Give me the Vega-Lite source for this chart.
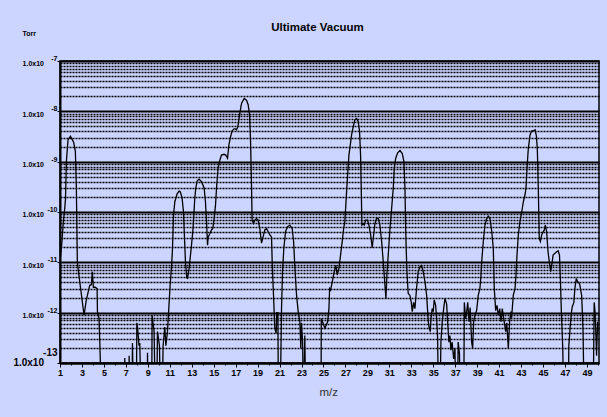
{
"$schema":"https://vega.github.io/schema/vega-lite/v6.json",
"width":539,"height":302,
"autosize":{"type":"none"},
"padding":{"left":60,"top":61,"right":8,"bottom":54},
"background":"#CCD5FF",
"config":{"view":{"stroke":"#000","strokeWidth":1.5,"fill":"#CCD5FF"},"font":"Liberation Sans"},
"title":{"text":"Ultimate Vacuum","font":"Liberation Sans","fontSize":11.5,"fontWeight":"bold","color":"#000","anchor":"middle","frame":"group","offset":-13,"baseline":"alphabetic","dx":-12},
"data":{"values":[
{"mz":1.00,"torr":1.0e-11},{"mz":1.18,"torr":2.6e-11},{"mz":1.30,"torr":6.3e-11},{"mz":1.43,"torr":1.17e-10},{"mz":1.5,"torr":1.8e-10},{"mz":1.58,"torr":1.0e-9},{"mz":1.73,"torr":2.7e-9},{"mz":1.95,"torr":3.2e-9},{"mz":2.25,"torr":2.4e-9},{"mz":2.40,"torr":1.6e-9},{"mz":2.49,"torr":3.0e-10},{"mz":2.58,"torr":1.0e-11},{"mz":2.80,"torr":4.1e-12},{"mz":3.19,"torr":8.9e-13},{"mz":3.40,"torr":1.8e-12},{"mz":3.71,"torr":3.5e-12},{"mz":3.86,"torr":3.6e-12},{"mz":3.95,"torr":6.5e-12},{"mz":4.04,"torr":3.2e-12},{"mz":4.20,"torr":3.2e-12},{"mz":4.38,"torr":3.0e-12},{"mz":4.41,"torr":1.05e-12},{"mz":4.56,"torr":7.6e-13},{"mz":4.68,"torr":1e-13},{"mz":4.75,"torr":1e-14},
{"mz":6.85,"torr":1e-14},{"mz":6.9,"torr":1.26e-13},{"mz":6.95,"torr":1e-14},{"mz":7.25,"torr":1e-14},{"mz":7.3,"torr":1.4e-13},{"mz":7.35,"torr":1e-14},{"mz":7.55,"torr":1e-14},{"mz":7.6,"torr":2.5e-13},{"mz":7.7,"torr":1e-14},{"mz":7.95,"torr":1e-14},{"mz":8.0,"torr":6.3e-13},{"mz":8.1,"torr":4.2e-13},{"mz":8.2,"torr":2.2e-13},{"mz":8.27,"torr":2.5e-13},{"mz":8.4,"torr":1e-14},{"mz":8.95,"torr":1e-14},{"mz":8.97,"torr":1.6e-13},{"mz":9.05,"torr":1e-14},{"mz":9.35,"torr":1e-14},{"mz":9.39,"torr":8.9e-13},{"mz":9.57,"torr":4.2e-13},{"mz":9.7,"torr":1e-14},{"mz":9.8,"torr":1e-14},{"mz":9.88,"torr":4.2e-13},{"mz":10.06,"torr":2.2e-13},{"mz":10.18,"torr":1e-14},{"mz":10.3,"torr":1e-14},{"mz":10.39,"torr":2.2e-13},{"mz":10.55,"torr":5.2e-13},{"mz":10.64,"torr":2.2e-13},{"mz":10.79,"torr":4.2e-13},{"mz":10.91,"torr":1.2e-12},
{"mz":11.03,"torr":3.5e-12},{"mz":11.15,"torr":7.6e-12},{"mz":11.25,"torr":1.9e-11},{"mz":11.34,"torr":8.7e-11},{"mz":11.46,"torr":1.6e-10},{"mz":11.67,"torr":2.3e-10},{"mz":11.85,"torr":2.6e-10},{"mz":11.97,"torr":2.5e-10},{"mz":12.12,"torr":1.9e-10},{"mz":12.25,"torr":1.0e-10},{"mz":12.33,"torr":3.5e-11},{"mz":12.43,"torr":1.0e-11},{"mz":12.55,"torr":4.9e-12},{"mz":12.62,"torr":4.8e-12},{"mz":12.76,"torr":7.6e-12},{"mz":12.98,"torr":2.2e-11},{"mz":13.12,"torr":4.7e-11},{"mz":13.28,"torr":1.9e-10},{"mz":13.37,"torr":3.0e-10},{"mz":13.49,"torr":4.1e-10},{"mz":13.67,"torr":4.5e-10},{"mz":13.89,"torr":4.0e-10},{"mz":14.13,"torr":3.0e-10},{"mz":14.25,"torr":1.6e-10},{"mz":14.35,"torr":6.3e-11},{"mz":14.44,"torr":2.2e-11},{"mz":14.5,"torr":3.2e-11},{"mz":14.65,"torr":3.7e-11},{"mz":14.8,"torr":4.4e-11},{"mz":14.92,"torr":4.7e-11},{"mz":15.04,"torr":7.4e-11},{"mz":15.17,"torr":1.4e-10},{"mz":15.26,"torr":3.0e-10},{"mz":15.4,"torr":7.4e-10},{"mz":15.56,"torr":1.07e-9},{"mz":15.71,"torr":1.35e-9},{"mz":15.95,"torr":1.4e-9},{"mz":16.1,"torr":1.35e-9},{"mz":16.26,"torr":1.17e-9},{"mz":16.38,"torr":2.1e-9},{"mz":16.5,"torr":2.9e-9},{"mz":16.68,"torr":4.1e-9},{"mz":16.86,"torr":4.5e-9},{"mz":17.0,"torr":4.5e-9},{"mz":17.08,"torr":4.3e-9},{"mz":17.2,"torr":4.9e-9},{"mz":17.38,"torr":9.1e-9},{"mz":17.54,"torr":1.45e-8},{"mz":17.78,"torr":1.8e-8},{"mz":17.99,"torr":1.66e-8},{"mz":18.14,"torr":1.35e-8},{"mz":18.27,"torr":8.5e-9},{"mz":18.36,"torr":2.5e-9},{"mz":18.45,"torr":3.0e-10},{"mz":18.5,"torr":6.9e-11},{"mz":18.63,"torr":5.9e-11},{"mz":18.75,"torr":6.9e-11},{"mz":18.9,"torr":7.4e-11},{"mz":19.05,"torr":6.9e-11},{"mz":19.2,"torr":4.7e-11},{"mz":19.36,"torr":2.4e-11},{"mz":19.5,"torr":3.2e-11},{"mz":19.66,"torr":4.4e-11},{"mz":19.81,"torr":4.7e-11},{"mz":19.96,"torr":4.1e-11},{"mz":20.12,"torr":3.5e-11},{"mz":20.27,"torr":3.2e-11},{"mz":20.33,"torr":1.0e-11},{"mz":20.45,"torr":2.2e-12},{"mz":20.57,"torr":4.9e-13},{"mz":20.69,"torr":3.9e-13},{"mz":20.75,"torr":1.0e-12},{"mz":20.85,"torr":1.0e-12},{"mz":20.9,"torr":1e-14},{"mz":21.05,"torr":1e-14},{"mz":21.18,"torr":1.2e-12},{"mz":21.27,"torr":6.5e-12},{"mz":21.39,"torr":1.9e-11},{"mz":21.55,"torr":4.1e-11},{"mz":21.73,"torr":5.1e-11},{"mz":21.94,"torr":5.5e-11},{"mz":22.15,"torr":4.7e-11},{"mz":22.28,"torr":2.6e-11},{"mz":22.4,"torr":7.6e-12},{"mz":22.55,"torr":2.2e-12},{"mz":22.7,"torr":1.05e-12},{"mz":22.85,"torr":6.6e-13},{"mz":22.94,"torr":1.95e-13},{"mz":23.0,"torr":6.3e-13},{"mz":23.1,"torr":2.6e-13},{"mz":23.19,"torr":1e-14},{"mz":23.3,"torr":3.5e-13},{"mz":23.4,"torr":1e-14},
{"mz":24.78,"torr":1e-14},{"mz":24.8,"torr":7.6e-13},{"mz":24.95,"torr":6.3e-13},{"mz":25.13,"torr":4.9e-13},{"mz":25.38,"torr":6.6e-13},{"mz":25.5,"torr":1.2e-12},{"mz":25.56,"torr":3.0e-12},{"mz":25.65,"torr":2.8e-12},{"mz":25.8,"torr":4.1e-12},{"mz":25.98,"torr":6.5e-12},{"mz":26.13,"torr":8.7e-12},{"mz":26.25,"torr":5.6e-12},{"mz":26.41,"torr":7.6e-12},{"mz":26.59,"torr":1.6e-11},{"mz":26.71,"torr":2.6e-11},{"mz":26.84,"torr":4.7e-11},{"mz":26.95,"torr":6.5e-11},{"mz":27.04,"torr":1.4e-10},{"mz":27.16,"torr":4.0e-10},{"mz":27.32,"torr":1.35e-9},{"mz":27.44,"torr":2.1e-9},{"mz":27.56,"torr":3.4e-9},{"mz":27.71,"torr":4.9e-9},{"mz":27.86,"torr":6.8e-9},{"mz":28.02,"torr":7.2e-9},{"mz":28.17,"torr":6.2e-9},{"mz":28.29,"torr":3.9e-9},{"mz":28.38,"torr":1.35e-9},{"mz":28.44,"torr":3.0e-10},{"mz":28.5,"torr":5.5e-11},{"mz":28.62,"torr":5.9e-11},{"mz":28.72,"torr":5.5e-11},{"mz":28.84,"torr":6.9e-11},{"mz":29.02,"torr":6.9e-11},{"mz":29.14,"torr":5.5e-11},{"mz":29.3,"torr":3.5e-11},{"mz":29.44,"torr":1.95e-11},{"mz":29.57,"torr":3.5e-11},{"mz":29.69,"torr":5.9e-11},{"mz":29.84,"torr":7.6e-11},{"mz":29.99,"torr":7.4e-11},{"mz":30.14,"torr":5.5e-11},{"mz":30.3,"torr":2.6e-11},{"mz":30.45,"torr":1.0e-11},{"mz":30.6,"torr":3.5e-12},{"mz":30.69,"torr":1.9e-12},{"mz":30.78,"torr":5.6e-12},{"mz":30.9,"torr":1.4e-11},{"mz":31.06,"torr":4.7e-11},{"mz":31.21,"torr":1.17e-10},{"mz":31.36,"torr":3.0e-10},{"mz":31.45,"torr":7.4e-10},{"mz":31.58,"torr":1.17e-9},{"mz":31.76,"torr":1.5e-9},{"mz":31.97,"torr":1.66e-9},{"mz":32.18,"torr":1.45e-9},{"mz":32.33,"torr":1.0e-9},{"mz":32.42,"torr":3.0e-10},{"mz":32.51,"torr":3.0e-11},{"mz":32.6,"torr":6.5e-12},{"mz":32.72,"torr":2.4e-12},{"mz":32.88,"torr":2.2e-12},{"mz":33.0,"torr":1.6e-12},{"mz":33.09,"torr":1.05e-12},{"mz":33.21,"torr":1.6e-12},{"mz":33.33,"torr":1.2e-12},{"mz":33.49,"torr":3.2e-12},{"mz":33.63,"torr":6.5e-12},{"mz":33.79,"torr":8.1e-12},{"mz":33.94,"torr":8.7e-12},{"mz":34.09,"torr":6.5e-12},{"mz":34.25,"torr":4.1e-12},{"mz":34.4,"torr":2.2e-12},{"mz":34.55,"torr":6.6e-13},{"mz":34.64,"torr":4.9e-13},{"mz":34.73,"torr":4.2e-13},{"mz":34.79,"torr":7.6e-13},{"mz":34.91,"torr":1.2e-12},{"mz":35.0,"torr":1.05e-12},{"mz":35.09,"torr":1.8e-12},{"mz":35.22,"torr":1.4e-12},{"mz":35.31,"torr":7.6e-13},{"mz":35.4,"torr":3.1e-13},{"mz":35.48,"torr":1e-14},{"mz":35.6,"torr":1e-14},{"mz":35.7,"torr":2.6e-13},{"mz":35.82,"torr":6.6e-13},{"mz":35.95,"torr":1.2e-12},{"mz":36.07,"torr":1.9e-12},{"mz":36.22,"torr":1.5e-12},{"mz":36.31,"torr":6.6e-13},{"mz":36.43,"torr":2.6e-13},{"mz":36.52,"torr":3.5e-13},{"mz":36.61,"torr":1.8e-13},{"mz":36.72,"torr":2.6e-13},{"mz":36.86,"torr":1.2e-13},{"mz":36.98,"torr":1.95e-13},{"mz":37.06,"torr":1e-14},{"mz":37.2,"torr":1e-14},{"mz":37.27,"torr":2.6e-13},{"mz":37.39,"torr":1.55e-13},{"mz":37.48,"torr":1e-14},{"mz":37.78,"torr":1e-14},{"mz":37.83,"torr":1.6e-12},{"mz":37.95,"torr":7.6e-13},{"mz":38.05,"torr":1.05e-12},{"mz":38.14,"torr":1.6e-12},{"mz":38.26,"torr":6.6e-13},{"mz":38.36,"torr":1.26e-12},{"mz":38.5,"torr":2.6e-13},{"mz":38.59,"torr":1.95e-13},{"mz":38.68,"torr":6.6e-13},{"mz":38.8,"torr":8.9e-13},{"mz":38.95,"torr":1.1e-12},{"mz":39.1,"torr":2.2e-12},{"mz":39.25,"torr":3.0e-12},{"mz":39.34,"torr":5.1e-12},{"mz":39.41,"torr":1.0e-11},{"mz":39.56,"torr":2.6e-11},{"mz":39.71,"torr":5.5e-11},{"mz":39.87,"torr":7.4e-11},{"mz":40.02,"torr":8.3e-11},{"mz":40.17,"torr":7.4e-11},{"mz":40.33,"torr":4.1e-11},{"mz":40.47,"torr":1.9e-11},{"mz":40.56,"torr":3.0e-12},{"mz":40.69,"torr":1.1e-12},{"mz":40.81,"torr":1.4e-12},{"mz":40.93,"torr":8.9e-13},{"mz":41.06,"torr":1.2e-12},{"mz":41.17,"torr":6.6e-13},{"mz":41.29,"torr":1.2e-12},{"mz":41.42,"torr":7.6e-13},{"mz":41.6,"torr":4.2e-13},{"mz":41.7,"torr":6.3e-13},{"mz":41.84,"torr":1.95e-13},{"mz":41.96,"torr":6.6e-13},{"mz":42.08,"torr":1.05e-12},{"mz":42.14,"torr":7.9e-13},{"mz":42.2,"torr":1.2e-12},{"mz":42.29,"torr":2.2e-12},{"mz":42.45,"torr":3.0e-12},{"mz":42.54,"torr":5.6e-12},{"mz":42.63,"torr":1.4e-11},{"mz":42.75,"torr":3.5e-11},{"mz":42.9,"torr":6.5e-11},{"mz":43.06,"torr":1.0e-10},{"mz":43.21,"torr":1.6e-10},{"mz":43.36,"torr":2.2e-10},{"mz":43.45,"torr":3.0e-10},{"mz":43.54,"torr":7.4e-10},{"mz":43.66,"torr":1.8e-9},{"mz":43.82,"torr":3.4e-9},{"mz":43.97,"torr":4.1e-9},{"mz":44.12,"torr":4.1e-9},{"mz":44.28,"torr":4.3e-9},{"mz":44.4,"torr":3.2e-9},{"mz":44.48,"torr":1.8e-9},{"mz":44.57,"torr":3.0e-10},{"mz":44.66,"torr":3.0e-11},{"mz":44.76,"torr":2.6e-11},{"mz":44.88,"torr":3.5e-11},{"mz":45.0,"torr":4.0e-11},{"mz":45.12,"torr":4.4e-11},{"mz":45.21,"torr":5.5e-11},{"mz":45.33,"torr":4.1e-11},{"mz":45.46,"torr":1.6e-11},{"mz":45.58,"torr":1.0e-11},{"mz":45.7,"torr":6.5e-12},{"mz":45.83,"torr":1.0e-11},{"mz":45.92,"torr":1.4e-11},{"mz":46.07,"torr":1.5e-11},{"mz":46.22,"torr":1.6e-11},{"mz":46.38,"torr":1.7e-11},{"mz":46.5,"torr":1.4e-11},{"mz":46.59,"torr":4.1e-12},{"mz":46.68,"torr":8.9e-13},{"mz":46.8,"torr":1.95e-13},{"mz":46.9,"torr":1e-14},{"mz":47.3,"torr":1e-14},{"mz":47.35,"torr":2.2e-13},{"mz":47.51,"torr":6.6e-13},{"mz":47.6,"torr":1.05e-12},{"mz":47.66,"torr":1.3e-12},{"mz":47.81,"torr":1.6e-12},{"mz":47.9,"torr":3.0e-12},{"mz":48.03,"torr":4.8e-12},{"mz":48.15,"torr":4.1e-12},{"mz":48.25,"torr":4.0e-12},{"mz":48.36,"torr":3.5e-12},{"mz":48.52,"torr":2.2e-12},{"mz":48.64,"torr":4.9e-13},{"mz":48.77,"torr":1e-14},{"mz":49.56,"torr":1e-14},{"mz":49.66,"torr":1.6e-12},{"mz":49.75,"torr":1.0e-12},{"mz":49.88,"torr":1.4e-13},{"mz":49.97,"torr":6.6e-13},{"mz":50.0,"torr":4.2e-13}
]},
"resolve":{"axis":{"y":"independent"}},
"encoding":{
"x":{"field":"mz","type":"quantitative","scale":{"domain":[1,50.1],"nice":false,"zero":false},
"axis":{"title":"m/z","values":[1,2,3,4,5,6,7,8,9,10,11,12,13,14,15,16,17,18,19,20,21,22,23,24,25,26,27,28,29,30,31,32,33,34,35,36,37,38,39,40,41,42,43,44,45,46,47,48,49,50],
"labelExpr":"datum.value % 2 == 1 ? datum.label : ''","grid":false,"domainColor":"#000","domainWidth":2,"tickColor":"#000","tickWidth":1,
"tickSize":{"condition":{"test":"datum.value % 2 == 1","value":4},"value":2},
"labelFontSize":9,"labelFontWeight":"bold","labelColor":"#000","labelPadding":1,"labelOverlap":false,"labelFlush":false,"labelFont":"Liberation Sans",
"titleX":259,"titleY":32,"titleAlign":"left","titleBaseline":"alphabetic","titleFontSize":11.5,"titleFontWeight":"normal","titleColor":"#333","titleFont":"Liberation Sans"}}
},
"layer":[
{
"mark":{"type":"line","color":"#000","strokeWidth":1.3,"clip":true},
"encoding":{
"y":{"field":"torr","type":"quantitative","scale":{"type":"log","domain":[1e-13,1e-7],"nice":false},
"axis":{"orient":"left","title":"Torr","values":[1e-13,2e-13,3e-13,4e-13,5e-13,6e-13,7e-13,8e-13,9e-13,1e-12,2e-12,3e-12,4e-12,5e-12,6e-12,7e-12,8e-12,9e-12,1e-11,2e-11,3e-11,4e-11,5e-11,6e-11,7e-11,8e-11,9e-11,1e-10,2e-10,3e-10,4e-10,5e-10,6e-10,7e-10,8e-10,9e-10,1e-9,2e-9,3e-9,4e-9,5e-9,6e-9,7e-9,8e-9,9e-9,1e-8,2e-8,3e-8,4e-8,5e-8,6e-8,7e-8,8e-8,9e-8,1e-7],
"grid":true,"gridColor":"#000","gridOpacity":1,
"gridWidth":{"condition":{"test":"abs(log(datum.value)/LN10 - round(log(datum.value)/LN10)) < 0.01","value":2},"value":1.5},
"gridDash":{"condition":{"test":"abs(log(datum.value)/LN10 - round(log(datum.value)/LN10)) < 0.01","value":[]},"value":[2,1]},
"tickSize":{"condition":{"test":"abs(log(datum.value)/LN10 - round(log(datum.value)/LN10)) < 0.01","value":3},"value":0},
"tickColor":"#000","domainColor":"#000","domainWidth":2,
"labelExpr":"abs(log(datum.value)/LN10 - round(log(datum.value)/LN10)) < 0.01 ? '1.0x10' : ''",
"labelFontSize":{"condition":{"test":"datum.value < 1.5e-13","value":10},"value":7},
"labelOffset":{"condition":{"test":"datum.value < 1.5e-13","value":-1},"value":2.7},
"labelFontWeight":"bold","labelColor":"#000","labelPadding":13.5,"labelOverlap":false,"labelBound":false,"labelFlush":false,"labelFont":"Liberation Sans",
"titleAngle":0,"titleX":-38,"titleY":-26,"titleAlign":"left","titleBaseline":"alphabetic","titleFontSize":7,"titleFontWeight":"bold","titleColor":"#000","titleFont":"Liberation Sans"}}
}
},
{
"mark":{"type":"point","opacity":0},
"encoding":{
"y":{"field":"torr","type":"quantitative","scale":{"type":"log","domain":[1e-13,1e-7],"nice":false},
"axis":{"orient":"left","title":null,"values":[1e-13,1e-12,1e-11,1e-10,1e-9,1e-8,1e-7],"grid":false,"domain":false,"ticks":false,
"labelExpr":"['-13','-12','-11','-10','-9','-8','-7'][round(log(datum.value)/LN10)+13]",
"labelFontSize":{"condition":{"test":"datum.value < 1.5e-13","value":10},"value":7},
"labelOffset":{"condition":{"test":"datum.value < 1.5e-13","value":-11},"value":-2.5},
"labelFontWeight":"bold","labelColor":"#000","labelPadding":3,"labelOverlap":false,"labelBound":false,"labelFlush":false,"labelFont":"Liberation Sans"}}
}
}
]
}
